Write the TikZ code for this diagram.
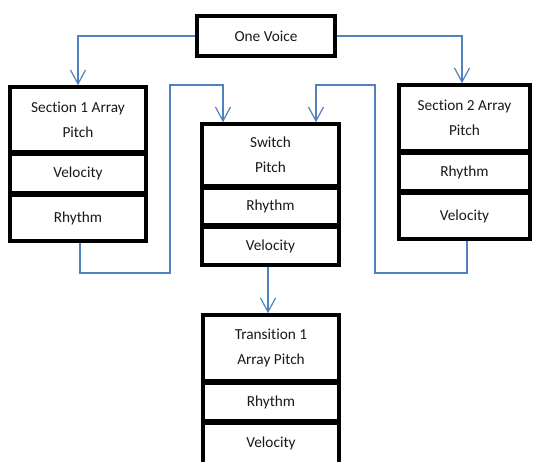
\documentclass[tikz,border=0pt]{standalone}
\usepackage{fontspec}
\setmainfont[Ligatures={NoCommon}]{Carlito}
\usetikzlibrary{arrows.meta}
\definecolor{lineblue}{RGB}{79,129,189}
\definecolor{txt}{RGB}{25,25,25}
\tikzset{
  cell/.style={draw=black, line width=3.5pt, rectangle, inner sep=0pt, align=center,
    text=txt, font=\fontsize{15.3}{25}\selectfont, fill=white},
  conn/.style={draw=lineblue, line width=1.2pt, line join=miter,
    -{Straight Barb[length=14pt,width=15pt,line width=1.2pt]}}
}
\begin{document}
\begin{tikzpicture}[x=1pt,y=-1pt]
\useasboundingbox (0,0) rectangle (535,462);
\clip (0,0) rectangle (535,462);
\fill[white] (0,0) rectangle (535,462);
% One Voice
\node[cell, minimum width=138pt, minimum height=40pt] (ov) at (266,36) {One Voice};
% Section 1
\node[cell, minimum width=136pt, minimum height=65pt] (s1h) at (78,119.5) {Section 1 Array\\Pitch};
\node[cell, minimum width=136pt, minimum height=39pt] (s1v) at (78,173.5) {Velocity};
\node[cell, minimum width=136pt, minimum height=46pt] (s1r) at (78,218) {Rhythm};
% Section 2
\node[cell, minimum width=131pt, minimum height=66pt] (s2h) at (464.5,118) {Section 2 Array\\Pitch};
\node[cell, minimum width=131pt, minimum height=38pt] (s2r) at (464.5,172) {Rhythm};
\node[cell, minimum width=131pt, minimum height=46pt] (s2v) at (464.5,216) {Velocity};
% Switch
\node[cell, minimum width=137pt, minimum height=62pt] (swh) at (270.5,155) {Switch\\Pitch};
\node[cell, minimum width=137pt, minimum height=37pt] (swr) at (270.5,206.5) {Rhythm};
\node[cell, minimum width=137pt, minimum height=38pt] (swv) at (270.5,246) {Velocity};
% Transition
\node[cell, minimum width=136pt, minimum height=66pt] (trh) at (271,348) {Transition 1\\Array Pitch};
\node[cell, minimum width=136pt, minimum height=38pt] (trr) at (271,402) {Rhythm};
\node[cell, minimum width=136pt, minimum height=41pt] (trv) at (271,443.5) {Velocity};
% helper coordinates
\coordinate (r1) at (462,36);
\coordinate (a1) at (80,273);
\coordinate (a2) at (170,85);
\coordinate (a3) at (223,85);
\coordinate (b1) at (467,273);
\coordinate (b2) at (375,85);
\coordinate (b3) at (316,85);
\coordinate (d) at (268,300);
% connectors
\draw[conn] (ov.west) -- (ov.west -| s1h.north) -- (s1h.north);
\draw[conn] (ov.east) -- (r1) -- (r1 |- s2h.north);
\draw[conn] (a1 |- s1r.south) -- (a1) -- (a1 -| a2) -- (a2) -- (a3) -- (a3 |- swh.north);
\draw[conn] (b1 |- s2v.south) -- (b1) -- (b1 -| b2) -- (b2) -- (b3) -- (b3 |- swh.north);
\draw[conn] (d |- swv.south) -- (d |- trh.north);
\end{tikzpicture}
\end{document}
